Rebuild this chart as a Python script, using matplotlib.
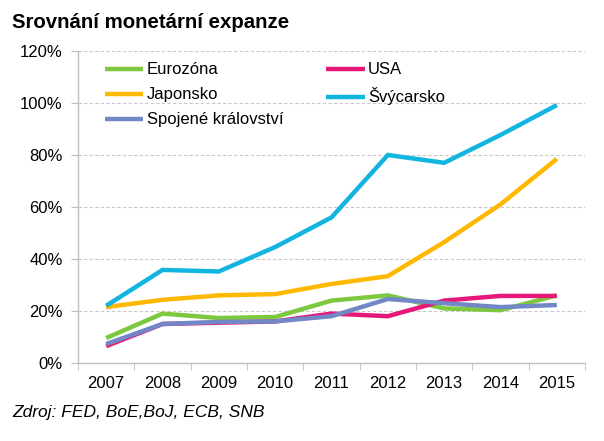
import matplotlib
matplotlib.use("Agg")
import matplotlib.pyplot as plt
import numpy as np

years = ["2007", "2008", "2009", "2010", "2011", "2012", "2013", "2014", "2015"]
eurozona = [9.6, 19.0, 17.3, 17.7, 24.0, 26.0, 21.0, 20.3, 26.0]
usa = [6.5, 15.0, 15.5, 16.0, 19.0, 18.0, 24.0, 25.8, 25.8]
japonsko = [21.5, 24.3, 26.0, 26.5, 30.4, 33.4, 46.5, 61.0, 78.5]
svycarsko = [22.0, 35.8, 35.2, 44.6, 56.0, 80.0, 77.0, 87.7, 99.2]
uk = [7.3, 15.0, 15.8, 16.0, 18.0, 24.6, 23.0, 21.5, 22.3]
yticks = [0, 20, 40, 60, 80, 100, 120]

plt.rcParams['font.family'] = ['Liberation Sans', 'DejaVu Sans']

fig = plt.figure(figsize=(6.04, 4.41), dpi=100)
ax = fig.add_axes([78/604, 1-363/441, (585-78)/604, (363-51)/441])

x = np.arange(len(years))
series = [
    ("Eurozóna", eurozona, "#7DC83E"),
    ("Japonsko", japonsko, "#FFB800"),
    ("Spojené království", uk, "#7187C6"),
    ("USA", usa, "#E6197A"),
    ("Švýcarsko", svycarsko, "#12B4E0"),
]
order_draw = [0, 3, 1, 4, 2]
handles = {}
for i in order_draw:
    name, vals, col = series[i]
    h, = ax.plot(x, vals, color=col, lw=3.2, label=name, solid_capstyle='butt', solid_joinstyle='miter')
    handles[name] = h

ax.set_xlim(-0.5, len(years) - 0.5)
ax.set_ylim(0, 120)
ax.set_yticks(yticks)
ax.set_yticklabels([f"{v}%" for v in yticks], fontsize=12)
ax.set_xticks(x)
ax.set_xticklabels(years, fontsize=12)
ax.set_xticks(np.arange(len(years) + 1) - 0.5, minor=True)
ax.tick_params(axis='x', which='major', length=0, pad=9)
ax.tick_params(axis='x', which='minor', length=5, color='#BFBFBF', direction='out')
ax.tick_params(axis='y', length=5, color='#BFBFBF', pad=6)

for v in yticks[1:]:
    ax.axhline(v, color='#C8C8C8', lw=0.8, ls=(0, (3, 2)), zorder=0)

for s in ['top', 'right']:
    ax.spines[s].set_visible(False)
for s in ['left', 'bottom']:
    ax.spines[s].set_color('#BFBFBF')
    ax.spines[s].set_linewidth(1.0)

leg = ax.legend([handles[s[0]] for s in series], [s[0] for s in series],
                ncol=2, loc='upper left', bbox_to_anchor=(0.04, 0.985),
                frameon=False, fontsize=12, handlelength=2.3, handletextpad=0.2,
                columnspacing=2.6, labelspacing=0.6, borderaxespad=0)

fig.text(12/604, 1-22/441, "Srovnání monetární expanze", fontsize=14.7, fontweight='bold',
         va='center', ha='left')
fig.text(12/604, 1-413/441, "Zdroj: FED, BoE,BoJ, ECB, SNB", fontsize=12.5, style='italic',
         va='center', ha='left')

fig.savefig("out.png", dpi=100)
